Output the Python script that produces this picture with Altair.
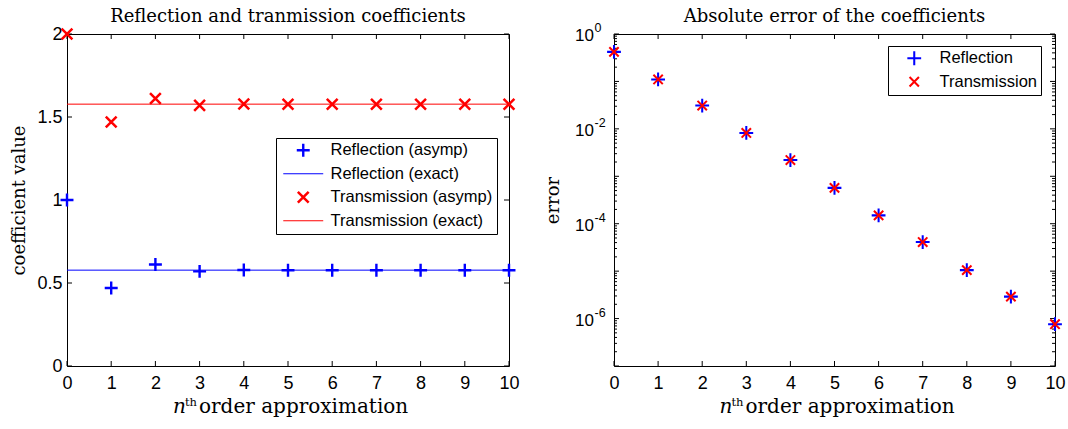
import altair as alt
import pandas as pd

# ---------------- data ----------------
n_values = list(range(11))
reflection_asymp = [1.0, 0.47, 0.611, 0.570, 0.578, 0.577, 0.577, 0.577, 0.577, 0.577, 0.577]
transmission_asymp = [2.0, 1.47, 1.611, 1.570, 1.578, 1.577, 1.577, 1.577, 1.577, 1.577, 1.577]
reflection_exact = [0.5774, 0.5774]
transmission_exact = [1.5774, 1.5774]
line_n = [0, 10]
error_reflection = [0.42, 0.11, 0.031, 0.0082, 0.0022, 5.7e-4, 1.5e-4, 4.1e-5, 1.05e-5, 2.9e-6, 7.6e-7]
error_transmission = [0.42, 0.11, 0.031, 0.0082, 0.0022, 5.7e-4, 1.5e-4, 4.1e-5, 1.05e-5, 2.9e-6, 7.6e-7]

left_series = ["Reflection (asymp)", "Reflection (exact)", "Transmission (asymp)", "Transmission (exact)"]
right_series = ["Reflection", "Transmission"]

left_title = "Reflection and tranmission coefficients"
right_title = "Absolute error of the coefficients"
x_title_var = "n"
x_title_sup = "th"
x_title_rest = "order approximation"

x_ticks = list(range(11))
left_y_ticks = [0, 0.5, 1, 1.5, 2]
right_y_major = [1e-7, 1e-6, 1e-5, 1e-4, 1e-3, 1e-2, 1e-1, 1]
right_y_minor = [m * 10.0 ** e for e in range(-7, 0) for m in range(2, 10)]
right_label_values = [1, 1e-2, 1e-4, 1e-6]
right_label_base = ["10", "10", "10", "10"]
right_label_exp = ["0", "-2", "-4", "-6"]

# ---------------- styles ----------------
def plus_path(a, t):
    return (f"M{-a},{-t}L{-t},{-t}L{-t},{-a}L{t},{-a}L{t},{-t}L{a},{-t}"
            f"L{a},{t}L{t},{t}L{t},{a}L{-t},{a}L{-t},{t}L{-a},{t}Z")


def cross_path(b, t):
    o = round(t / 1.4142, 3)
    return (f"M{-b+o},{-b-o}L{b+o},{b-o}L{b-o},{b+o}L{-b-o},{-b+o}Z"
            f"M{b+o},{-b+o}L{-b+o},{b+o}L{-b-o},{b-o}L{b-o},{-b-o}Z")


def line_path(a, t):
    return f"M{-a},{-t}L{a},{-t}L{a},{t}L{-a},{t}Z"


PLUS_L = plus_path(1.08, 0.2)
CROSS_L = cross_path(0.9, 0.21)
LINE_L = line_path(3.33, 0.085)
PLUS_R = plus_path(1.15, 0.17)
CROSS_R = cross_path(0.78, 0.17)

BLUE = "#0000ff"
RED = "#ff0000"
WL, WR, H = 442, 441, 332
SERIF = "DejaVu Serif"
SANS = "Liberation Sans"
SYM = 144

x_scale = alt.Scale(domain=[0, 10], nice=False, zero=False)
y_left_scale = alt.Scale(domain=[0, 2], nice=False)
y_right_scale = alt.Scale(type="log", domain=[1e-7, 1], nice=False)

dummy = pd.DataFrame({"k": [0]})


def inner_ticks(W, xvals=None, yvals=None, yscale=None, size=5):
    layers = []
    if xvals is not None:
        d = pd.DataFrame({"n": xvals})
        for y0, y1 in [(H, H - size), (0, size)]:
            layers.append(
                alt.Chart(d).mark_rule(color="black", strokeWidth=1).encode(
                    x=alt.X("n:Q", scale=x_scale), y=alt.value(y0), y2=alt.value(y1)))
    if yvals is not None:
        d = pd.DataFrame({"value": yvals})
        for x0, x1 in [(0, size), (W, W - size)]:
            layers.append(
                alt.Chart(d).mark_rule(color="black", strokeWidth=1).encode(
                    y=alt.Y("value:Q", scale=yscale), x=alt.value(x0), x2=alt.value(x1)))
    return layers


def titles(W, text):
    t = alt.Chart(dummy).mark_text(text=text, font=SERIF, fontSize=18, color="black",
                                   align="center", baseline="alphabetic").encode(
        x=alt.value(W / 2), y=alt.value(-12))
    n = alt.Chart(dummy).mark_text(text=x_title_var, font=SERIF, fontStyle="italic", fontSize=20,
                                   color="black", align="left", baseline="alphabetic").encode(
        x=alt.value(W / 2 - 115), y=alt.value(H + 47))
    s = alt.Chart(dummy).mark_text(text=x_title_sup, font=SERIF, fontSize=11.5, color="black",
                                   align="left", baseline="alphabetic").encode(
        x=alt.value(W / 2 - 103), y=alt.value(H + 40))
    r = alt.Chart(dummy).mark_text(text=x_title_rest, font=SERIF, fontSize=20, color="black",
                                   align="left", baseline="alphabetic").encode(
        x=alt.value(W / 2 - 89), y=alt.value(H + 47))
    return [t, n, s, r]


x_axis = alt.Axis(values=x_ticks, title=None, format="d")

# ---------------- left panel ----------------
pts_left = pd.DataFrame({
    "n": n_values + n_values,
    "value": reflection_asymp + transmission_asymp,
    "series": ["Reflection (asymp)"] * 11 + ["Transmission (asymp)"] * 11,
})
legend_left = alt.Legend(
    title=None, orient="none", legendX=209, legendY=104,
    strokeColor="black", fillColor="white", padding=4,
    labelFont=SANS, labelFontSize=16.5, labelColor="black", labelLimit=400,
    symbolSize=SYM, symbolStrokeWidth=0, symbolOffset=15, labelOffset=19, rowPadding=6.5,
)
left_points = alt.Chart(pts_left).mark_point(filled=True, opacity=1, strokeWidth=0, size=SYM).encode(
    x=alt.X("n:Q", scale=x_scale, axis=x_axis),
    y=alt.Y("value:Q", scale=y_left_scale,
            axis=alt.Axis(values=left_y_ticks, title="coefficient value", format="~g",
                          labelPadding=5, titlePadding=8)),
    shape=alt.Shape("series:N", scale=alt.Scale(domain=left_series,
                    range=[PLUS_L, LINE_L, CROSS_L, LINE_L]), legend=legend_left),
    color=alt.Color("series:N", scale=alt.Scale(domain=left_series,
                    range=[BLUE, BLUE, RED, RED]), legend=legend_left),
)
line_r = alt.Chart(pd.DataFrame({"n": line_n, "value": reflection_exact})).mark_line(
    color=BLUE, strokeWidth=1).encode(x=alt.X("n:Q", scale=x_scale), y=alt.Y("value:Q", scale=y_left_scale))
line_t = alt.Chart(pd.DataFrame({"n": line_n, "value": transmission_exact})).mark_line(
    color=RED, strokeWidth=1).encode(x=alt.X("n:Q", scale=x_scale), y=alt.Y("value:Q", scale=y_left_scale))

left = alt.layer(
    *inner_ticks(WL, x_ticks, left_y_ticks, y_left_scale),
    line_r, line_t, left_points,
    *titles(WL, left_title),
).properties(width=WL, height=H)

# ---------------- right panel ----------------
pts_right = pd.DataFrame({
    "n": n_values + n_values,
    "value": error_reflection + error_transmission,
    "series": ["Reflection"] * 11 + ["Transmission"] * 11,
})
legend_right = alt.Legend(
    title=None, orient="none", legendX=274, legendY=12,
    strokeColor="black", fillColor="white", padding=4,
    labelFont=SANS, labelFontSize=16.5, labelColor="black", labelLimit=400,
    symbolSize=SYM, symbolStrokeWidth=0, symbolOffset=14, labelOffset=17, rowPadding=6.5,
)
right_points = alt.Chart(pts_right).mark_point(filled=True, opacity=1, strokeWidth=0, size=SYM).encode(
    x=alt.X("n:Q", scale=x_scale, axis=x_axis),
    y=alt.Y("value:Q", scale=y_right_scale,
            axis=alt.Axis(values=right_label_values, title="error", labels=False, titlePadding=52)),
    shape=alt.Shape("series:N", scale=alt.Scale(domain=right_series, range=[PLUS_R, CROSS_R]),
                    legend=legend_right),
    color=alt.Color("series:N", scale=alt.Scale(domain=right_series, range=[BLUE, RED]),
                    legend=legend_right),
)
lab_df = pd.DataFrame({"value": right_label_values, "base": right_label_base, "exp": right_label_exp})
lab_base = alt.Chart(lab_df).mark_text(font=SANS, fontSize=17, color="black", align="right",
                                       baseline="middle", dy=2).encode(
    y=alt.Y("value:Q", scale=y_right_scale), x=alt.value(-20), text="base:N")
lab_exp = alt.Chart(lab_df).mark_text(font=SANS, fontSize=12.5, color="black", align="left",
                                      baseline="middle", dy=-6).encode(
    y=alt.Y("value:Q", scale=y_right_scale), x=alt.value(-19.5), text="exp:N")

right = alt.layer(
    *inner_ticks(WR, x_ticks, right_y_major, y_right_scale, 5),
    *inner_ticks(WR, None, right_y_minor, y_right_scale, 3),
    right_points, lab_base, lab_exp,
    *titles(WR, right_title),
).properties(width=WR, height=H)

chart = alt.hconcat(left, right, spacing=23).resolve_scale(
    color="independent", shape="independent", y="independent"
).properties(
    padding={"left": 10, "top": 7, "right": 1, "bottom": 5}, background="white"
).configure_view(
    stroke="black", strokeWidth=1
).configure_axis(
    grid=False, domain=False, ticks=False, labelPadding=8, labelFlush=False,
    labelFont=SANS, labelFontSize=18, labelColor="black",
    titleFont=SERIF, titleFontSize=18, titleFontWeight="normal", titleColor="black",
)

chart.save("out.html", embed_options={"renderer": "svg", "actions": False})
